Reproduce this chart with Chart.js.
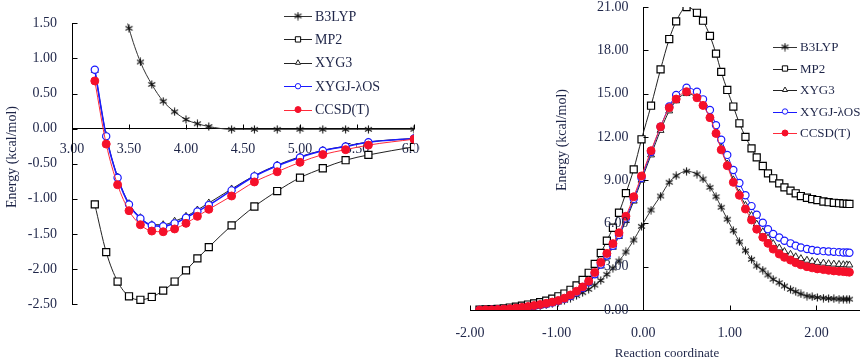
<!DOCTYPE html>
<html>
<head>
<meta charset="utf-8">
<script src="https://cdn.jsdelivr.net/npm/chart.js@4.4.1/dist/chart.umd.min.js"></script>
<style>
    html, body { margin: 0; padding: 0; background: #fff; }
    #wrap { position: relative; width: 866px; height: 362px; overflow: hidden; }
    #leftBox { position: absolute; left: 0; top: 0; width: 420px; height: 362px; overflow: hidden; }
    #rightBox { position: absolute; left: 420px; top: 0; width: 446px; height: 362px; }
    canvas { position: absolute; left: 0; top: 0; }
</style>
</head>
<body>
<div id="wrap">
    <div id="leftBox"><canvas id="distChart" width="440" height="362"></canvas></div>
    <div id="rightBox"><canvas id="ircChart" width="446" height="362"></canvas></div>
</div>
<script>
// ---- left panel: energy vs distance ----
const distX = [3.2, 3.3, 3.4, 3.5, 3.6, 3.7, 3.8, 3.9, 4.0, 4.1, 4.2, 4.4, 4.6, 4.8, 5.0, 5.2, 5.4, 5.6, 6.0];
const distB3LYP = [null, null, 2.1, 1.43, 0.95, 0.63, 0.39, 0.24, 0.13, 0.07, 0.03, -0.01, -0.01, -0.01, -0.01, -0.01, -0.01, -0.01, -0.01];
const distMP2 = [-1.08, -1.76, -2.18, -2.39, -2.44, -2.40, -2.31, -2.18, -2.02, -1.85, -1.69, -1.38, -1.11, -0.89, -0.70, -0.565, -0.45, -0.375, -0.26];
const distXYG3 = [0.83, -0.10, -0.69, -1.07, -1.27, -1.37, -1.37, -1.32, -1.25, -1.16, -1.06, -0.86, -0.67, -0.52, -0.40, -0.31, -0.25, -0.19, -0.14];
const distXYGJ = [0.84, -0.11, -0.70, -1.08, -1.28, -1.38, -1.39, -1.35, -1.27, -1.18, -1.09, -0.88, -0.68, -0.53, -0.41, -0.315, -0.255, -0.195, -0.14];
const distCCSD = [0.68, -0.22, -0.80, -1.17, -1.37, -1.46, -1.47, -1.43, -1.35, -1.25, -1.15, -0.96, -0.76, -0.615, -0.48, -0.37, -0.30, -0.235, -0.15];

// ---- right panel: energy along reaction coordinate ----
const rcX = [
    -1.89, -1.82, -1.75, -1.68, -1.61, -1.54, -1.47, -1.40, -1.33, -1.26,
    -1.19, -1.12, -1.05, -0.98, -0.91, -0.84, -0.77, -0.70, -0.63, -0.56,
    -0.49, -0.42, -0.35, -0.28, -0.20, -0.11, -0.02, 0.09, 0.20, 0.30,
    0.38, 0.50, 0.62, 0.69, 0.77, 0.84, 0.90, 0.97, 1.04, 1.11,
    1.18, 1.25, 1.31, 1.38, 1.44, 1.50, 1.57, 1.63, 1.70, 1.76,
    1.82, 1.89, 1.95, 2.01, 2.08, 2.14, 2.20, 2.26, 2.31, 2.35, 2.38
];
const rcB3LYP = [
    0.00, 0.01, 0.02, 0.03, 0.05, 0.07, 0.10, 0.13, 0.17, 0.22,
    0.28, 0.35, 0.44, 0.55, 0.67, 0.82, 1.00, 1.20, 1.43, 1.72,
    2.05, 2.47, 2.90, 3.40, 4.02, 4.85, 5.80, 6.93, 7.90, 8.85,
    9.30, 9.62, 9.42, 9.08, 8.50, 7.85, 7.12, 6.29, 5.50, 4.73,
    4.11, 3.51, 3.05, 2.77, 2.43, 2.13, 1.89, 1.66, 1.43, 1.27,
    1.11, 0.97, 0.92, 0.87, 0.83, 0.80, 0.78, 0.76, 0.75, 0.75, 0.75
];
const rcMP2 = [
    0.02, 0.04, 0.06, 0.08, 0.12, 0.17, 0.23, 0.30, 0.38, 0.46,
    0.55, 0.65, 0.78, 0.95, 1.14, 1.40, 1.70, 2.08, 2.58, 3.20,
    3.95, 4.80, 5.70, 6.74, 8.10, 9.75, 11.83, 14.16, 16.68, 18.78,
    20.00, 21.00, 20.60, 20.05, 19.00, 17.77, 16.50, 15.25, 14.10, 12.94,
    12.00, 11.20, 10.58, 9.98, 9.47, 9.13, 8.78, 8.50, 8.27, 8.09,
    7.90, 7.78, 7.69, 7.62, 7.52, 7.47, 7.43, 7.40, 7.38, 7.36, 7.35
];
const rcXYG3 = [
    0.00, 0.01, 0.02, 0.03, 0.05, 0.07, 0.10, 0.14, 0.19, 0.25,
    0.32, 0.40, 0.49, 0.60, 0.74, 0.93, 1.17, 1.47, 1.86, 2.40,
    3.05, 3.68, 4.35, 5.10, 6.20, 7.55, 9.00, 10.75, 12.45, 13.80,
    14.50, 15.00, 14.72, 14.22, 13.42, 12.35, 11.22, 10.12, 9.02, 8.10,
    7.25, 6.55, 5.95, 5.42, 4.98, 4.60, 4.30, 4.05, 3.86, 3.69,
    3.56, 3.45, 3.37, 3.30, 3.25, 3.21, 3.18, 3.16, 3.14, 3.13, 3.12
];
const rcXYGJ = [
    0.00, 0.01, 0.02, 0.03, 0.05, 0.08, 0.11, 0.16, 0.21, 0.27,
    0.34, 0.42, 0.51, 0.62, 0.77, 0.97, 1.22, 1.52, 1.92, 2.48,
    3.15, 3.78, 4.45, 5.20, 6.35, 7.70, 9.15, 10.95, 12.70, 14.10,
    14.90, 15.40, 15.13, 14.60, 13.86, 12.80, 11.80, 10.75, 9.70, 8.80,
    7.95, 7.20, 6.60, 6.05, 5.60, 5.27, 5.02, 4.80, 4.62, 4.46,
    4.33, 4.23, 4.16, 4.11, 4.08, 4.05, 4.03, 4.01, 3.99, 3.98, 3.97
];
const rcCCSD = [
    0.00, 0.01, 0.02, 0.04, 0.06, 0.09, 0.13, 0.18, 0.24, 0.31,
    0.38, 0.46, 0.55, 0.66, 0.82, 1.04, 1.30, 1.60, 2.00, 2.60,
    3.30, 3.92, 4.60, 5.35, 6.50, 7.85, 9.29, 11.04, 12.70, 14.02,
    14.62, 15.13, 14.71, 14.18, 13.33, 12.24, 11.10, 10.00, 8.85, 7.95,
    7.00, 6.24, 5.60, 5.04, 4.62, 4.22, 3.88, 3.65, 3.46, 3.28,
    3.13, 3.00, 2.92, 2.85, 2.80, 2.75, 2.71, 2.68, 2.66, 2.64, 2.62
];

const seriesNames = ['B3LYP', 'MP2', 'XYG3', 'XYGJ-\u03bbOS', 'CCSD(T)'];
const distTicksX = [3.0, 3.5, 4.0, 4.5, 5.0, 5.5, 6.0];
const rcTicksX = [-2, -1, 0, 1, 2];

const serif = "'Liberation Serif', 'Times New Roman', serif";
const textColor = '#1e2548';

function pairUp(xs, ys) {
    return xs.map((x, i) => ({ x, y: ys[i] })).filter(p => p.y !== null);
}

// excel-like asterisk marker
function starMark(size, color) {
    const c = document.createElement('canvas');
    c.width = size;
    c.height = size;
    const g = c.getContext('2d');
    const m = size / 2, r = size / 2 - 0.5;
    g.strokeStyle = color;
    g.lineWidth = 1.1;
    g.beginPath();
    g.moveTo(m, m - r); g.lineTo(m, m + r);
    g.moveTo(m - r * 0.87, m - r * 0.5); g.lineTo(m + r * 0.87, m + r * 0.5);
    g.moveTo(m - r * 0.87, m + r * 0.5); g.lineTo(m + r * 0.87, m - r * 0.5);
    g.stroke();
    return c;
}
const star = starMark(9, '#111');

function buildDatasets(xs, b3, mp2, xyg3, xygj, ccsd, thin) {
    return [
        { label: seriesNames[0], data: pairUp(xs, b3), order: 4,
          borderColor: '#333', borderWidth: 1, pointStyle: star, pointRadius: 4 },
        { label: seriesNames[1], data: pairUp(xs, mp2), order: 3,
          borderColor: '#222', borderWidth: 1, pointStyle: 'rect', pointRadius: 5,
          pointBackgroundColor: '#fff', pointBorderColor: '#000', pointBorderWidth: 1.2 },
        { label: seriesNames[2], data: pairUp(xs, xyg3), order: 2,
          borderColor: '#222', borderWidth: 1, pointStyle: 'triangle', pointRadius: 4,
          pointBackgroundColor: '#fff', pointBorderColor: '#222', pointBorderWidth: 1 },
        { label: seriesNames[3], data: pairUp(xs, xygj), order: 1,
          borderColor: '#1a1aff', borderWidth: thin ? 1 : 1.6, pointStyle: 'circle', pointRadius: 3.6,
          pointBackgroundColor: '#fff', pointBorderColor: '#1a1aff', pointBorderWidth: 1.2 },
        { label: seriesNames[4], data: pairUp(xs, ccsd), order: 0,
          borderColor: '#ff2a3a', borderWidth: 1, pointStyle: 'circle', pointRadius: 4,
          pointBackgroundColor: '#f5102a', pointBorderColor: '#f5102a', pointBorderWidth: 1 },
    ];
}

// inward tick marks, free-placed y labels, axis titles
const excelAxes = {
    id: 'excelAxes',
    afterDraw(chart, args, opts) {
        const ctx = chart.ctx;
        const xs = chart.scales.x, ys = chart.scales.y;
        const ax = Math.round(xs.getPixelForValue(opts.yCross)) + 0.5;
        const ay = Math.round(ys.getPixelForValue(opts.xCross)) + 0.5;
        ctx.save();
        ctx.strokeStyle = '#000';
        ctx.lineWidth = 1;
        ctx.beginPath();
        ys.ticks.forEach(t => {
            const py = Math.round(ys.getPixelForValue(t.value)) + 0.5;
            ctx.moveTo(ax, py); ctx.lineTo(ax + 5, py);
        });
        xs.ticks.forEach(t => {
            const px = Math.round(xs.getPixelForValue(t.value)) + 0.5;
            ctx.moveTo(px, ay); ctx.lineTo(px, ay - 5);
        });
        ctx.stroke();

        ctx.fillStyle = textColor;
        if (opts.yLabels) {
            ctx.font = '14px ' + serif;
            ctx.textAlign = 'right';
            ctx.textBaseline = 'middle';
            ys.ticks.forEach(t => {
                ctx.fillText(t.value.toFixed(2), ax - 15, ys.getPixelForValue(t.value));
            });
        }
        (opts.titles || []).forEach(tt => {
            ctx.save();
            ctx.font = tt.size + 'px ' + serif;
            ctx.textAlign = 'center';
            ctx.textBaseline = 'middle';
            ctx.translate(tt.x, tt.y);
            if (tt.rotate) ctx.rotate(-Math.PI / 2);
            ctx.fillText(tt.text, 0, 0);
            ctx.restore();
        });
        ctx.restore();
    }
};

// legend drawn at a fixed spot like the original
const sideLegend = {
    id: 'sideLegend',
    afterDraw(chart, args, opts) {
        const ctx = chart.ctx;
        ctx.save();
        chart.data.datasets.forEach((ds, i) => {
            const y = opts.y + i * opts.gap;
            ctx.strokeStyle = ds.borderColor;
            ctx.lineWidth = 1;
            ctx.beginPath();
            ctx.moveTo(opts.x, Math.round(y) + 0.5);
            ctx.lineTo(opts.x + opts.len, Math.round(y) + 0.5);
            ctx.stroke();
            ctx.fillStyle = ds.pointBackgroundColor || '#fff';
            ctx.strokeStyle = ds.pointBorderColor || ds.borderColor;
            ctx.lineWidth = 1;
            Chart.helpers.drawPoint(ctx, {
                pointStyle: ds.pointStyle, rotation: 0,
                radius: ds.pointRadius * 0.75, borderWidth: 1
            }, opts.x + opts.len / 2, y);
            ctx.fillStyle = textColor;
            ctx.font = opts.size + 'px ' + serif;
            ctx.textAlign = 'left';
            ctx.textBaseline = 'middle';
            ctx.fillText(ds.label, opts.x + opts.len + 3, y + 1);
        });
        ctx.restore();
    }
};

Chart.register(excelAxes, sideLegend);

const tickFont = { family: serif, size: 14 };

new Chart(document.getElementById('distChart'), {
    type: 'line',
    data: { datasets: buildDatasets(distX, distB3LYP, distMP2, distXYG3, distXYGJ, distCCSD, false) },
    options: {
        responsive: false,
        animation: false,
        layout: { padding: { left: 0, right: 26, top: 17, bottom: 58 } },
        elements: { line: { cubicInterpolationMode: 'monotone' } },
        plugins: {
            legend: { display: false },
            tooltip: { enabled: false },
            excelAxes: {
                yCross: 3.0, xCross: 0,
                titles: [{ text: 'Energy (kcal/mol)', x: 12, y: 157, size: 14, rotate: true }],
            },
            sideLegend: { x: 284, y: 16, gap: 23.4, len: 28, size: 14 },
        },
        scales: {
            x: {
                type: 'linear', min: 3, max: 6,
                position: { y: 0 },
                afterFit: s => { s.height = 0; },
                afterBuildTicks: s => { s.ticks = distTicksX.map(v => ({ value: v })); },
                grid: { drawOnChartArea: false, drawTicks: false },
                border: { color: '#000', width: 1 },
                ticks: { padding: 12, font: tickFont, color: textColor, maxRotation: 0, autoSkip: false,
                         callback: v => v.toFixed(2) },
            },
            y: {
                min: -2.5, max: 1.5,
                position: 'left',
                afterFit: s => { s.width = 72; },
                grid: { drawOnChartArea: false, drawTicks: false },
                border: { color: '#000', width: 1 },
                ticks: { stepSize: 0.5, padding: 15, font: tickFont, color: textColor,
                         callback: v => v.toFixed(2) },
            },
        },
    },
});

new Chart(document.getElementById('ircChart'), {
    type: 'line',
    data: { datasets: buildDatasets(rcX, rcB3LYP, rcMP2, rcXYG3, rcXYGJ, rcCCSD, true) },
    options: {
        responsive: false,
        animation: false,
        layout: { padding: { left: 50, right: 3, top: 7, bottom: 0 } },
        elements: { line: { cubicInterpolationMode: 'monotone' } },
        plugins: {
            legend: { display: false },
            tooltip: { enabled: false },
            excelAxes: {
                yCross: 0, xCross: 0, yLabels: true,
                titles: [
                    { text: 'Energy (kcal/mol)', x: 142, y: 140, size: 14, rotate: true },
                    { text: 'Reaction coordinate', x: 247, y: 354, size: 13 },
                ],
            },
            sideLegend: { x: 353, y: 47, gap: 21.5, len: 24, size: 13 },
        },
        scales: {
            x: {
                type: 'linear', min: -2, max: 2.5,
                position: 'bottom',
                afterFit: s => { s.height = 52; },
                afterBuildTicks: s => { s.ticks = rcTicksX.map(v => ({ value: v })); },
                grid: { drawOnChartArea: false, drawTicks: false },
                border: { color: '#000', width: 1 },
                ticks: { padding: 15, font: tickFont, color: textColor, maxRotation: 0, autoSkip: false,
                         callback: v => v.toFixed(2) },
            },
            y: {
                min: 0, max: 21,
                position: { x: 0 },
                afterFit: s => { s.width = 0; },
                grid: { drawOnChartArea: false, drawTicks: false },
                border: { color: '#000', width: 1 },
                ticks: { stepSize: 3, display: false },
            },
        },
    },
});
</script>
</body>
</html>
